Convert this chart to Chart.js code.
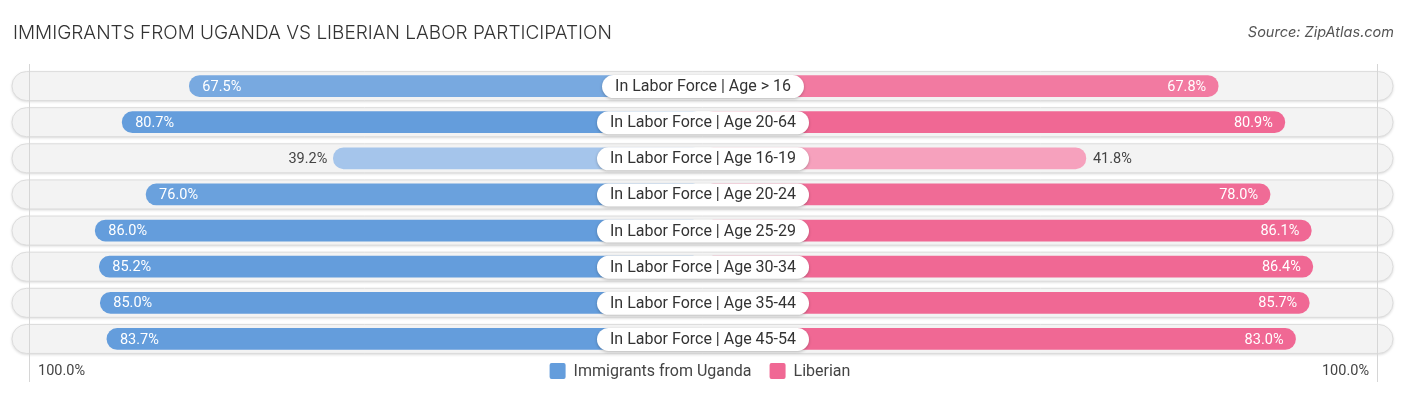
<!DOCTYPE html>
<html lang="en">
<head>
    <meta charset="UTF-8">
    <title>Immigrants from Uganda vs Liberian Labor Participation</title>
    <script src="https://cdn.jsdelivr.net/npm/chart.js"></script>
    <style>
        body { margin: 0; background: #ffffff; }
        #wrap { position: relative; width: 1406px; height: 395px; }
    </style>
</head>
<body>
<div id="wrap">
    <canvas id="laborChart" width="1406" height="395"></canvas>
</div>

<script>
    // data
    const categories = [
        'In Labor Force | Age > 16',
        'In Labor Force | Age 20-64',
        'In Labor Force | Age 16-19',
        'In Labor Force | Age 20-24',
        'In Labor Force | Age 25-29',
        'In Labor Force | Age 30-34',
        'In Labor Force | Age 35-44',
        'In Labor Force | Age 45-54'
    ];
    const ugandaValues = [67.5, 80.7, 39.2, 76.0, 86.0, 85.2, 85.0, 83.7];
    const liberianValues = [67.8, 80.9, 41.8, 78.0, 86.1, 86.4, 85.7, 83.0];
    const seriesNames = ['Immigrants from Uganda', 'Liberian'];
    const axisLabel = '100.0%';

    // room kept around the middle for the category label (in % units)
    const GAP = 33.45;
    const AXMAX = GAP + 100;

    function mix(a, b, t) {
        const r = Math.round(a[0] + (b[0] - a[0]) * t);
        const g = Math.round(a[1] + (b[1] - a[1]) * t);
        const bl = Math.round(a[2] + (b[2] - a[2]) * t);
        return `rgb(${r},${g},${bl})`;
    }
    function shade(v, light, full) {
        const t = Math.max(0, Math.min(1, (v - 35) / 45));
        return mix(light, full, t);
    }
    const blueLight = [172, 201, 236], blueFull = [100, 157, 220];
    const pinkLight = [247, 171, 196], pinkFull = [240, 104, 148];

    const rowsPlugin = {
        id: 'rows',
        beforeDatasetsDraw(chart) {
            const ctx = chart.ctx;
            const y = chart.scales.y;
            ctx.save();
            categories.forEach((c, i) => {
                const cy = y.getPixelForValue(i);
                const h = 29, x0 = 12, x1 = 1393;
                ctx.shadowColor = 'rgba(0,0,0,0.18)';
                ctx.shadowBlur = 3;
                ctx.shadowOffsetY = 1;
                ctx.fillStyle = '#f3f3f3';
                ctx.beginPath();
                ctx.roundRect(x0, cy - h / 2, x1 - x0, h, h / 2);
                ctx.fill();
                ctx.shadowColor = 'transparent';
                ctx.strokeStyle = '#dcdcdc';
                ctx.lineWidth = 1;
                ctx.stroke();
            });
            // faint vertical guide lines
            const xs = chart.scales.x;
            ctx.strokeStyle = '#d6d6d6';
            [-(GAP + 99), GAP + 99].forEach(v => {
                const px = Math.round(xs.getPixelForValue(v)) + 0.5;
                ctx.beginPath();
                ctx.moveTo(px, 64);
                ctx.lineTo(px, 382);
                ctx.stroke();
            });
            ctx.restore();
        },
        afterDatasetsDraw(chart) {
            const ctx = chart.ctx;
            const y = chart.scales.y;
            const xs = chart.scales.x;
            ctx.save();
            ctx.textBaseline = 'middle';
            ctx.font = '14.5px Roboto';
            categories.forEach((c, i) => {
                const cy = y.getPixelForValue(i) + 1;
                // left value
                const lv = ugandaValues[i];
                const lx = xs.getPixelForValue(-(GAP + lv));
                if (lv > 55) {
                    ctx.fillStyle = '#ffffff';
                    ctx.textAlign = 'left';
                    ctx.fillText(lv.toFixed(1) + '%', lx + 13, cy);
                } else {
                    ctx.fillStyle = '#444444';
                    ctx.textAlign = 'right';
                    ctx.fillText(lv.toFixed(1) + '%', lx - 6, cy);
                }
                // right value
                const rv = liberianValues[i];
                const rx = xs.getPixelForValue(GAP + rv);
                if (rv > 55) {
                    ctx.fillStyle = '#ffffff';
                    ctx.textAlign = 'right';
                    ctx.fillText(rv.toFixed(1) + '%', rx - 12, cy);
                } else {
                    ctx.fillStyle = '#444444';
                    ctx.textAlign = 'left';
                    ctx.fillText(rv.toFixed(1) + '%', rx + 7, cy);
                }
            });
            // category pills in the middle
            ctx.font = '16px Roboto';
            ctx.textAlign = 'center';
            const mid = xs.getPixelForValue(0);
            categories.forEach((c, i) => {
                const cy = y.getPixelForValue(i);
                const w = ctx.measureText(c).width + 26;
                ctx.shadowColor = 'rgba(0,0,0,0.25)';
                ctx.shadowBlur = 3;
                ctx.shadowOffsetY = 1;
                ctx.fillStyle = '#ffffff';
                ctx.beginPath();
                ctx.roundRect(mid - w / 2, cy - 11, w, 23, 11.5);
                ctx.fill();
                ctx.shadowColor = 'transparent';
                ctx.fillStyle = '#333333';
                ctx.fillText(c, mid, cy + 1);
            });
            ctx.restore();
        },
        afterDraw(chart) {
            const ctx = chart.ctx;
            ctx.save();
            ctx.textBaseline = 'middle';
            // title and source
            ctx.fillStyle = '#333333';
            ctx.textAlign = 'left';
            ctx.font = '300 19px Inter';
            ctx.fillText('IMMIGRANTS FROM UGANDA VS LIBERIAN LABOR PARTICIPATION', 13, 33);
            ctx.fillStyle = '#555555';
            ctx.textAlign = 'right';
            ctx.font = 'italic 14.5px Inter';
            ctx.fillText('Source: ZipAtlas.com', 1394, 33);

            // bottom axis labels
            const ly = 371;
            ctx.font = '14.5px Roboto';
            ctx.fillStyle = '#444444';
            ctx.textAlign = 'left';
            ctx.fillText(axisLabel, 38, ly);
            ctx.textAlign = 'right';
            ctx.fillText(axisLabel, 1369, ly);

            // legend
            ctx.font = '16px Roboto';
            ctx.textAlign = 'left';
            const colors = ['rgb(100,157,220)', 'rgb(240,104,148)'];
            const box = 16, gapBox = 8, gapItem = 18;
            const widths = seriesNames.map(n => box + gapBox + ctx.measureText(n).width);
            const total = widths[0] + gapItem + widths[1];
            let x = 700 - total / 2;
            seriesNames.forEach((n, k) => {
                ctx.fillStyle = colors[k];
                ctx.beginPath();
                ctx.roundRect(x, ly - box / 2, box, box, 2);
                ctx.fill();
                ctx.fillStyle = '#444444';
                ctx.fillText(n, x + box + gapBox, ly + 1);
                x += widths[k] + gapItem;
            });
            ctx.restore();
        }
    };

    const ctx = document.getElementById('laborChart').getContext('2d');
    new Chart(ctx, {
        type: 'bar',
        data: {
            labels: categories,
            datasets: [
                {
                    label: seriesNames[0],
                    data: ugandaValues.map(v => [-(GAP + v), 0]),
                    backgroundColor: ugandaValues.map(v => shade(v, blueLight, blueFull)),
                    borderRadius: 11,
                    borderSkipped: false,
                    barThickness: 21,
                    grouped: false
                },
                {
                    label: seriesNames[1],
                    data: liberianValues.map(v => [0, GAP + v]),
                    backgroundColor: liberianValues.map(v => shade(v, pinkLight, pinkFull)),
                    borderRadius: 11,
                    borderSkipped: false,
                    barThickness: 21,
                    grouped: false
                }
            ]
        },
        options: {
            indexAxis: 'y',
            responsive: false,
            animation: false,
            layout: { padding: { left: 24, right: 24, top: 68, bottom: 38 } },
            scales: {
                x: { min: -AXMAX, max: AXMAX, display: false },
                y: { display: false }
            },
            plugins: {
                legend: { display: false },
                tooltip: { enabled: false }
            }
        },
        plugins: [rowsPlugin]
    });
</script>
</body>
</html>
